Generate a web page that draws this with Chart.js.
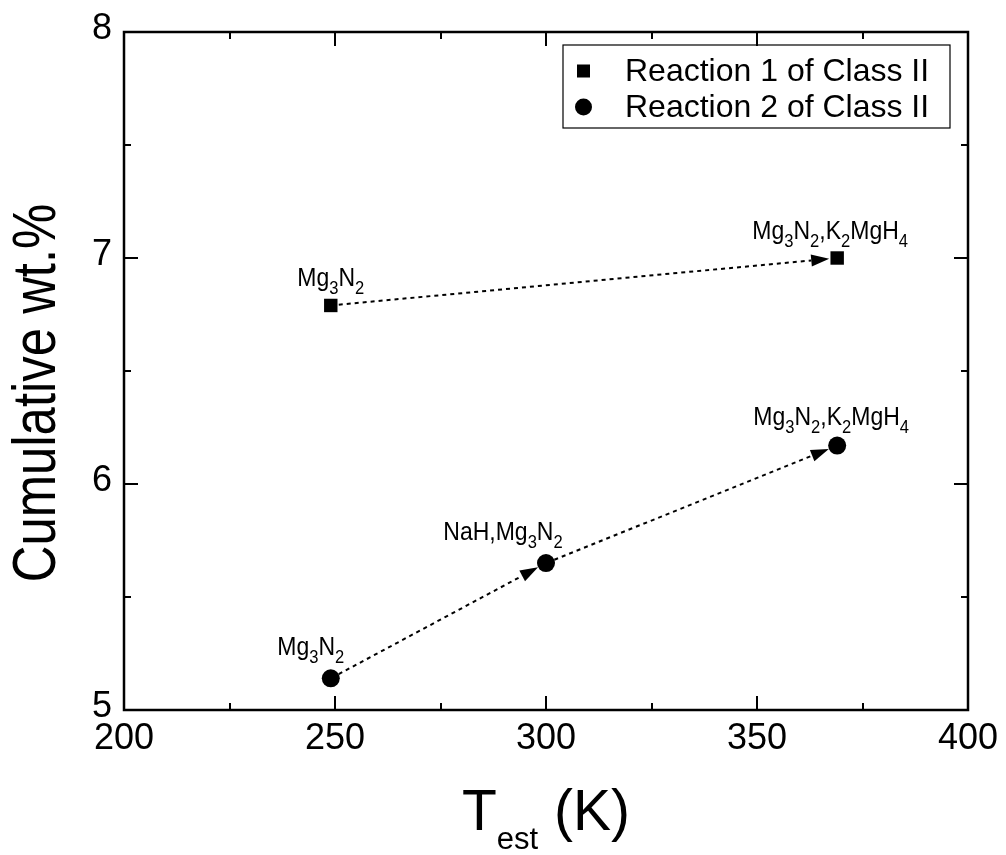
<!DOCTYPE html>
<html lang="en">
<head>
    <meta charset="UTF-8">
    <title>Cumulative wt.% vs T_est</title>
    <script src="https://cdn.jsdelivr.net/npm/chart.js"></script>
    <style>
        html, body { margin: 0; padding: 0; background: #fff; }
        #wrap { width: 1006px; height: 855px; }
    </style>
</head>
<body>
    <div id="wrap"><canvas id="chart" width="1006" height="855"></canvas></div>

    <script>
        // data
        const seriesNames = ['Reaction 1 of Class II', 'Reaction 2 of Class II'];
        const temps1 = [249, 369];
        const wt1 = [6.79, 7.0];
        const temps2 = [249, 300, 369];
        const wt2 = [5.14, 5.65, 6.17];
        // "_n" = subscript
        const labels1 = ['Mg_3N_2', 'Mg_3N_2,K_2MgH_4'];
        const labels2 = ['Mg_3N_2', 'NaH,Mg_3N_2', 'Mg_3N_2,K_2MgH_4'];
        const xTicks = [200, 250, 300, 350, 400];
        const yTicks = [5, 6, 7, 8];

        // label placement (pixels, relative to the point)
        const labelOffsets1 = [[0, -19], [-7, -19]];
        const labelOffsets2 = [[-20, -23], [-43, -23], [-6, -21]];

        const FONT = "'Liberation Sans', Arial, sans-serif";

        function toPoints(xs, ys) {
            return xs.map((x, i) => ({ x: x, y: ys[i] }));
        }

        // draw a string with _n subscripts, centred on cx, baseline at y, squeezed a bit
        function subText(ctx, str, cx, y, size) {
            const squeeze = 0.92;
            const parts = [];
            const re = /_(\d+)|([^_]+?)(?=_|$)/g;
            let m;
            while ((m = re.exec(str)) !== null) {
                if (m[1]) parts.push({ t: m[1], sub: true });
                else parts.push({ t: m[2], sub: false });
            }
            const subSize = Math.round(size * 0.7);
            let total = 0;
            parts.forEach(p => {
                ctx.font = (p.sub ? subSize : size) + 'px ' + FONT;
                p.w = ctx.measureText(p.t).width;
                total += p.w;
            });
            ctx.save();
            ctx.translate(cx - total * squeeze / 2, y);
            ctx.scale(squeeze, 1);
            let x = 0;
            ctx.textAlign = 'left';
            ctx.textBaseline = 'alphabetic';
            parts.forEach(p => {
                ctx.font = (p.sub ? subSize : size) + 'px ' + FONT;
                ctx.fillText(p.t, x, p.sub ? size * 0.32 : 0);
                x += p.w;
            });
            ctx.restore();
        }

        function tickText(ctx, str, x, y, align) {
            ctx.font = '36px ' + FONT;
            ctx.textAlign = align;
            ctx.textBaseline = 'alphabetic';
            ctx.fillText(str, x, y);
        }

        function dottedArrow(ctx, x1, y1, x2, y2, r1, r2) {
            const dx = x2 - x1, dy = y2 - y1;
            const len = Math.sqrt(dx * dx + dy * dy);
            const ux = dx / len, uy = dy / len;
            const sx = x1 + ux * r1, sy = y1 + uy * r1;
            const ex = x2 - ux * r2, ey = y2 - uy * r2;
            const headLen = 18, headW = 6;
            ctx.save();
            ctx.strokeStyle = '#000';
            ctx.lineWidth = 2;
            ctx.setLineDash([4, 4]);
            ctx.beginPath();
            ctx.moveTo(sx, sy);
            ctx.lineTo(ex - ux * headLen, ey - uy * headLen);
            ctx.stroke();
            ctx.setLineDash([]);
            ctx.fillStyle = '#000';
            const bx = ex - ux * headLen, by = ey - uy * headLen;
            ctx.beginPath();
            ctx.moveTo(ex, ey);
            ctx.lineTo(bx - uy * headW, by + ux * headW);
            ctx.lineTo(bx + uy * headW, by - ux * headW);
            ctx.closePath();
            ctx.fill();
            ctx.restore();
        }

        const framePlugin = {
            id: 'frame',
            beforeDatasetsDraw(chart) {
                const ctx = chart.ctx;
                const a = chart.chartArea;
                const xs = chart.scales.x, ys = chart.scales.y;
                ctx.save();
                ctx.strokeStyle = '#000';
                ctx.fillStyle = '#000';
                ctx.lineWidth = 2;
                // ticks inward on all four sides
                for (let v = 200; v <= 400; v += 25) {
                    const px = Math.round(xs.getPixelForValue(v));
                    const l = (v % 50 === 0) ? 14 : 7;
                    ctx.beginPath();
                    ctx.moveTo(px, a.bottom); ctx.lineTo(px, a.bottom - l);
                    ctx.moveTo(px, a.top); ctx.lineTo(px, a.top + l);
                    ctx.stroke();
                }
                for (let v = 5; v <= 8; v += 0.5) {
                    const py = Math.round(ys.getPixelForValue(v));
                    const l = (v % 1 === 0) ? 14 : 7;
                    ctx.beginPath();
                    ctx.moveTo(a.left, py); ctx.lineTo(a.left + l, py);
                    ctx.moveTo(a.right, py); ctx.lineTo(a.right - l, py);
                    ctx.stroke();
                }
                ctx.lineWidth = 2.5;
                ctx.strokeRect(a.left, a.top, a.right - a.left, a.bottom - a.top);

                // tick labels
                xs.ticks.forEach(t => tickText(ctx, String(t.value), xs.getPixelForValue(t.value), a.bottom + 39, 'center'));
                ys.ticks.forEach(t => tickText(ctx, String(t.value), a.left - 12, ys.getPixelForValue(t.value) + 7, 'right'));

                // arrows between consecutive points
                const m1 = chart.getDatasetMeta(0).data;
                for (let i = 0; i < m1.length - 1; i++) {
                    dottedArrow(ctx, m1[i].x, m1[i].y, m1[i + 1].x, m1[i + 1].y, 8, 8);
                }
                const m2 = chart.getDatasetMeta(1).data;
                for (let i = 0; i < m2.length - 1; i++) {
                    dottedArrow(ctx, m2[i].x, m2[i].y, m2[i + 1].x, m2[i + 1].y, 9, 9);
                }
                ctx.restore();
            },
            afterDatasetsDraw(chart) {
                const ctx = chart.ctx;
                const a = chart.chartArea;
                ctx.save();
                ctx.fillStyle = '#000';

                // point annotations
                const m1 = chart.getDatasetMeta(0).data;
                m1.forEach((p, i) => subText(ctx, labels1[i], p.x + labelOffsets1[i][0], p.y + labelOffsets1[i][1], 25));
                const m2 = chart.getDatasetMeta(1).data;
                m2.forEach((p, i) => subText(ctx, labels2[i], p.x + labelOffsets2[i][0], p.y + labelOffsets2[i][1], 25));

                // legend box
                const bx = a.right - 405, by = a.top + 13, bw = 387, bh = 83;
                ctx.lineWidth = 1.2;
                ctx.strokeStyle = '#000';
                ctx.strokeRect(bx, by, bw, bh);
                ctx.font = '32px ' + FONT;
                ctx.textAlign = 'left';
                ctx.textBaseline = 'middle';
                const rows = [by + 26, by + 62];
                // square
                ctx.fillRect(bx + 14, rows[0] - 6.5, 13, 13);
                ctx.fillText(seriesNames[0], bx + 62, rows[0] + 1);
                // circle
                ctx.beginPath();
                ctx.arc(bx + 20.5, rows[1], 8.5, 0, Math.PI * 2);
                ctx.fill();
                ctx.fillText(seriesNames[1], bx + 62, rows[1] + 1);

                // y title (rotated, condensed)
                ctx.save();
                ctx.translate(38, (a.top + a.bottom) / 2 + 22);
                ctx.rotate(-Math.PI / 2);
                ctx.scale(0.82, 1);
                ctx.font = '62px ' + FONT;
                ctx.textAlign = 'center';
                ctx.textBaseline = 'middle';
                ctx.fillText('Cumulative wt.%', 0, 0);
                ctx.restore();

                // x title: T_est (K)
                const cx = (a.left + a.right) / 2;
                const base = 830;
                ctx.textBaseline = 'alphabetic';
                ctx.font = '57px ' + FONT;
                const wT = ctx.measureText('T').width;
                const wK = ctx.measureText(' (K)').width;
                ctx.font = '31px ' + FONT;
                const wE = ctx.measureText('est').width;
                let x = cx - (wT + wE + wK) / 2;
                ctx.font = '57px ' + FONT;
                ctx.fillText('T', x, base);
                x += wT;
                ctx.font = '31px ' + FONT;
                ctx.fillText('est', x, base + 19);
                x += wE;
                ctx.font = '57px ' + FONT;
                ctx.fillText(' (K)', x, base);
                ctx.restore();
            }
        };

        new Chart(document.getElementById('chart'), {
            type: 'scatter',
            data: {
                datasets: [
                    {
                        label: seriesNames[0],
                        data: toPoints(temps1, wt1),
                        pointStyle: 'rect',
                        pointRadius: 9.5,
                        backgroundColor: '#000',
                        borderColor: '#000',
                        borderWidth: 0
                    },
                    {
                        label: seriesNames[1],
                        data: toPoints(temps2, wt2),
                        pointStyle: 'circle',
                        pointRadius: 9,
                        backgroundColor: '#000',
                        borderColor: '#000',
                        borderWidth: 0
                    }
                ]
            },
            options: {
                responsive: false,
                animation: false,
                events: [],
                layout: { padding: { top: 32, right: 38, left: 124, bottom: 145 } },
                plugins: {
                    legend: { display: false },
                    tooltip: { enabled: false }
                },
                scales: {
                    x: {
                        type: 'linear',
                        min: 200,
                        max: 400,
                        afterBuildTicks: s => { s.ticks = xTicks.map(v => ({ value: v })); },
                        afterFit: s => { s.height = 0; },
                        grid: { display: false, drawTicks: false },
                        border: { display: false },
                        ticks: { display: false }
                    },
                    y: {
                        type: 'linear',
                        min: 5,
                        max: 8,
                        afterBuildTicks: s => { s.ticks = yTicks.map(v => ({ value: v })); },
                        afterFit: s => { s.width = 0; },
                        grid: { display: false, drawTicks: false },
                        border: { display: false },
                        ticks: { display: false }
                    }
                }
            },
            plugins: [framePlugin]
        });
    </script>
</body>
</html>
